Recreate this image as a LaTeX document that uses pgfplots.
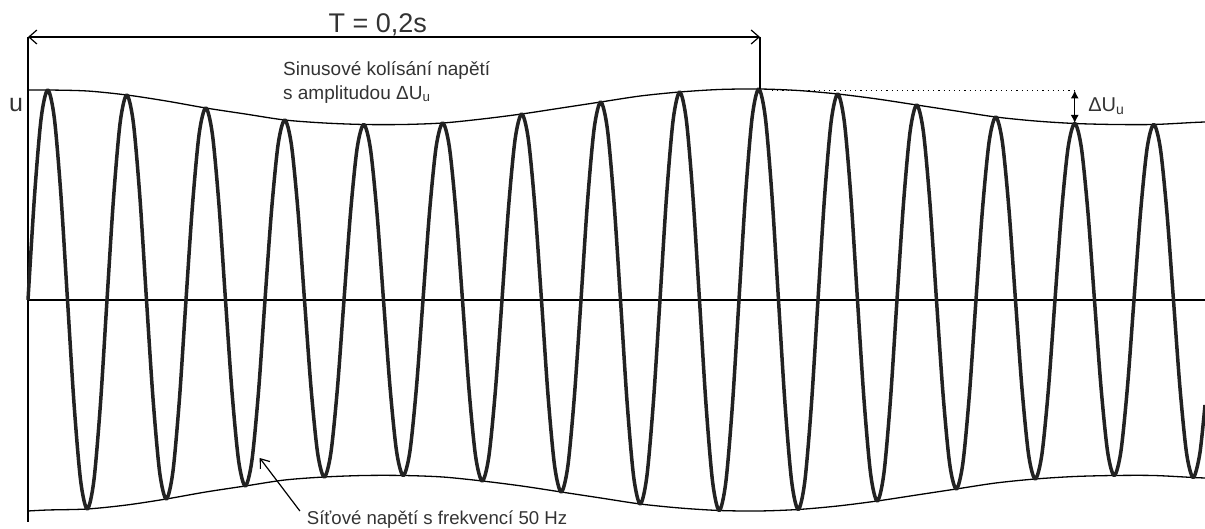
\documentclass[border=0pt]{standalone}
\usepackage{pgfplots}
\pgfplotsset{compat=1.18}
\usetikzlibrary{arrows.meta}
\usepackage{fontspec}
\setmainfont{Liberation Sans}
\definecolor{wave}{HTML}{222222}
\definecolor{thin}{HTML}{333333}
\begin{document}
\begin{tikzpicture}
\begin{axis}[name=ax, width=602.5pt, height=264.5pt, scale only axis,
  xmin=-4.253, xmax=178.79, ymin=-229, ymax=300,
  axis lines=none, ticks=none, clip=false]
% axes
\addplot[thin, line width=1pt] coordinates {(0,0) (178.79,0)};
\addplot[thin, line width=0.6pt] coordinates {(0,263) (0,-222)};
% envelopes
\addplot[thin, line width=0.65pt, smooth] coordinates {
(0,210) (3,210) (9,209) (15,205) (21,199) (27,192) (33,186) (39,180) (45,177)
(51,175.5) (57,175.5) (63,177) (69,181) (75,186) (81,192) (87,198) (93,204)
(99,208) (105,210.5) (111,211) (117,209.5) (123,206) (129,201) (135,195)
(141,189) (147,183) (153,179) (159,176.5) (165,175.5) (171,175.5) (177,177.5) (178.79,178)};
\addplot[thin, line width=0.65pt, smooth] coordinates {
(0,-211) (3,-210) (9,-209) (15,-205) (21,-199) (27,-192) (33,-186) (39,-180) (45,-177)
(51,-175.5) (57,-175.5) (63,-177) (69,-181) (75,-186) (81,-192) (87,-198) (93,-204)
(99,-208) (105,-210.5) (111,-211) (117,-209.5) (123,-206) (129,-201) (135,-195)
(141,-189) (147,-183) (153,-179) (159,-176.5) (165,-175.5) (171,-175.5) (177,-177.5) (178.79,-178)};
% modulated wave
\addplot[wave, line width=1.75pt, smooth, line join=round] coordinates {
(0,0) (1,105) (2,181.9) (3,210) (4,181.9) (5,105)
(6,0) (7,-104.5) (8,-181) (9,-209) (10,-181) (11,-104.5)
(12,0) (13,102.5) (14,177.5) (15,205) (16,177.5) (17,102.5)
(18,0) (19,-99.5) (20,-172.3) (21,-199) (22,-172.3) (23,-99.5)
(24,0) (25,96) (26,166.3) (27,192) (28,166.3) (29,96)
(30,0) (31,-93) (32,-161.1) (33,-186) (34,-161.1) (35,-93)
(36,0) (37,90) (38,155.9) (39,180) (40,155.9) (41,90)
(42,0) (43,-88.5) (44,-153.3) (45,-177) (46,-153.3) (47,-88.5)
(48,0) (49,87.8) (50,152) (51,175.5) (52,152) (53,87.8)
(54,0) (55,-87.8) (56,-152) (57,-175.5) (58,-152) (59,-87.8)
(60,0) (61,88.5) (62,153.3) (63,177) (64,153.3) (65,88.5)
(66,0) (67,-90.5) (68,-156.7) (69,-181) (70,-156.7) (71,-90.5)
(72,0) (73,93) (74,161.1) (75,186) (76,161.1) (77,93)
(78,0) (79,-96) (80,-166.3) (81,-192) (82,-166.3) (83,-96)
(84,0) (85,99) (86,171.5) (87,198) (88,171.5) (89,99)
(90,0) (91,-102) (92,-176.7) (93,-204) (94,-176.7) (95,-102)
(96,0) (97,104) (98,180.1) (99,208) (100,180.1) (101,104)
(102,0) (103,-105.3) (104,-182.3) (105,-210.5) (106,-182.3) (107,-105.3)
(108,0) (109,105.5) (110,182.7) (111,211) (112,182.7) (113,105.5)
(114,0) (115,-104.8) (116,-181.4) (117,-209.5) (118,-181.4) (119,-104.8)
(120,0) (121,103) (122,178.4) (123,206) (124,178.4) (125,103)
(126,0) (127,-100.5) (128,-174.1) (129,-201) (130,-174.1) (131,-100.5)
(132,0) (133,97.5) (134,168.9) (135,195) (136,168.9) (137,97.5)
(138,0) (139,-94.5) (140,-163.7) (141,-189) (142,-163.7) (143,-94.5)
(144,0) (145,91.5) (146,158.5) (147,183) (148,158.5) (149,91.5)
(150,0) (151,-89.5) (152,-155) (153,-179) (154,-155) (155,-89.5)
(156,0) (157,88.3) (158,152.8) (159,176.5) (160,152.8) (161,88.3)
(162,0) (163,-87.8) (164,-152) (165,-175.5) (166,-152) (167,-87.8)
(168,0) (169,87.8) (170,152) (171,175.5) (172,152) (173,87.8)
(174,0) (175,-88.8) (176,-153.7) (177,-177.5) (178,-153.7) (178.79,-105)};
% T arrow
\draw[thin, line width=0.6pt, {Straight Barb[length=4pt,width=7pt]}-{Straight Barb[length=4pt,width=7pt]}] (axis cs:0,263) -- (axis cs:111.2,263);
\draw[thin, line width=0.6pt] (axis cs:111.2,263) -- (axis cs:111.2,211);
\node[anchor=base west, font=\fontsize{13.5}{15}\selectfont, inner sep=0pt, text=thin] at (axis cs:45.6,267) {T = 0,2s};
% texts
\node[anchor=base west, font=\fontsize{9.5}{11}\selectfont, inner sep=0pt, text=thin] at (axis cs:38.7,224) {Sinusové kolísání napětí};
\node[anchor=base west, font=\fontsize{9.5}{11}\selectfont, inner sep=0pt, text=thin] at (axis cs:38.7,200) {s amplitudou ΔU\textsubscript{u}};
\node[anchor=base, font=\fontsize{12.5}{14}\selectfont, inner sep=0pt, text=thin] at (axis cs:-1.82,188) {u};
% delta U
\draw[thin, line width=0.6pt, dotted] (axis cs:113,209.5) -- (axis cs:159,209.5);
\draw[thin, line width=0.6pt, {Latex[length=4pt,width=4pt]}-{Latex[length=4pt,width=4pt]}] (axis cs:159,209.5) -- (axis cs:159,177);
\node[anchor=base west, font=\fontsize{10}{12}\selectfont, inner sep=0pt, text=thin] at (axis cs:161,188) {ΔU\textsubscript{u}};
% bottom label
\draw[thin, line width=0.6pt, -{Straight Barb[length=4pt,width=6pt]}] (axis cs:41.3,-211) -- (axis cs:35.2,-158);
\node[anchor=base west, font=\fontsize{9.3}{11}\selectfont, inner sep=0pt, text=thin] at (axis cs:42.3,-225) {Síťové napětí s frekvencí 50 Hz};
\end{axis}
\pgfresetboundingbox
\path (ax.south west) rectangle (ax.north east);
\end{tikzpicture}
\end{document}
